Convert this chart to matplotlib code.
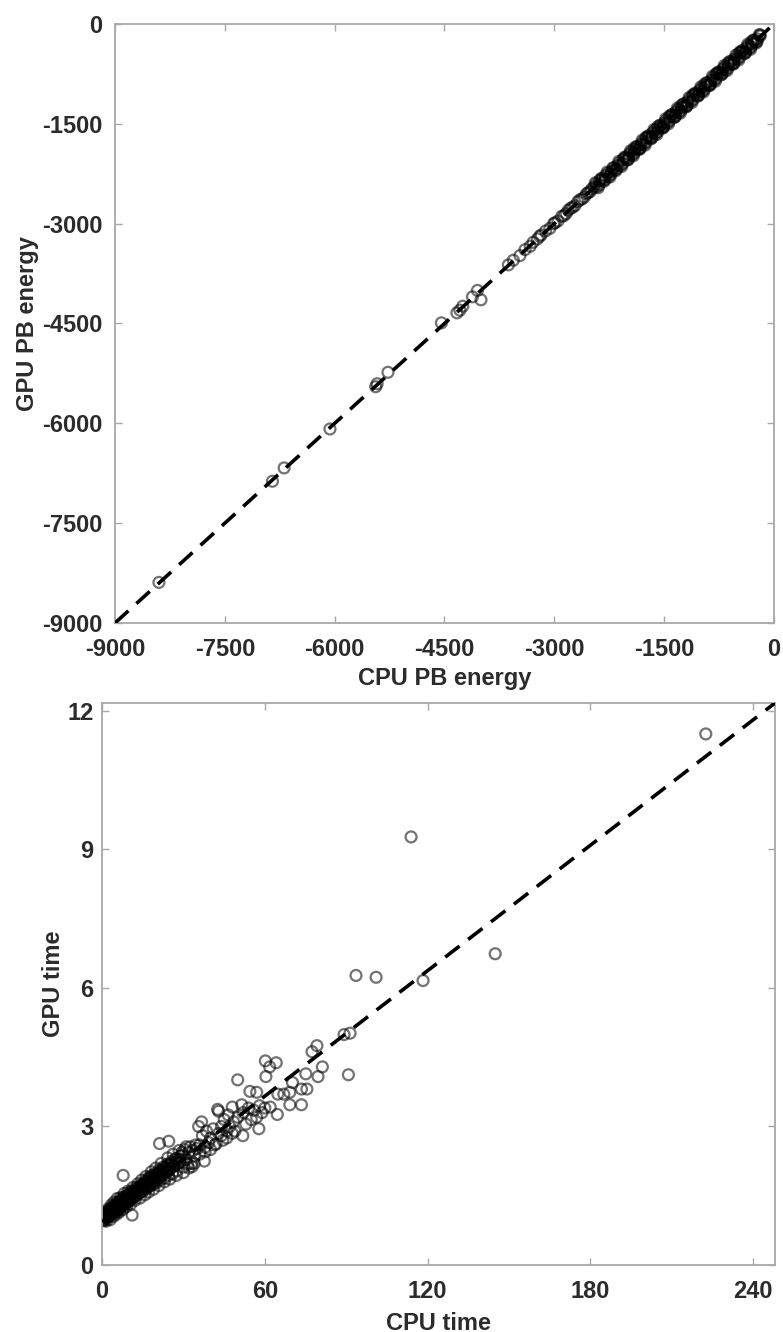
import numpy as np
import matplotlib
matplotlib.use("Agg")
import matplotlib.pyplot as plt

# ---- top panel: PB energy, CPU vs GPU ----
cpu_pb = [-8400, -6850, -6690, -6064, -5440, -5420, -5272, -4542, -4330, -4290,
          -4250, -4118, -4050, -4002, -3627, -3560, -3470, -3400, -3330, -3290,
          -3230, -3120, -3060, -3010, -2950, -2900, -2840, -2780, -2720, -2680,
          -2620, -2560, -2510,
          -3200, -3180, -2990, -2870, -2810, -2750, -2650, -2590, -2540, -2490,
          -2460, -2420, -2380, -2340, -2300, -2260, -2220, -2180, -2140, -2100,
          -2060, -2020, -1980, -1940, -1900, -1860, -1820, -1780, -1740, -1700,
          -1660, -1620, -1580, -1540, -1500, -1460, -1420, -1380, -1340, -1300,
          -1260, -1220, -1180, -1140, -1100, -1060, -1020, -980, -940, -900,
          -860, -820, -780, -740, -700, -660, -620, -580, -540, -500,
          -460, -420, -380, -340, -300, -260, -227, -190,
          -1990, -1910, -1830, -1750, -1670, -1590, -1510, -1430, -1350, -1270,
          -1190, -1110, -1030, -950, -870, -790, -710, -630, -550, -470,
          -390, -310]
gpu_pb = [-8390, -6870, -6670, -6085, -5450, -5405, -5233, -4490, -4340, -4300,
          -4240, -4099, -4003, -4144, -3619, -3550, -3480, -3390, -3340, -3280,
          -3230, -3110, -3070, -3000, -2960, -2890, -2850, -2770, -2730, -2670,
          -2630, -2550, -2520,
          -3190, -3170, -2985, -2880, -2800, -2755, -2640, -2600, -2535, -2480,
          -2450, -2445, -2350, -2345, -2280, -2290, -2215, -2195, -2130, -2125,
          -2030, -2025, -1960, -1970, -1895, -1875, -1810, -1805, -1710, -1705,
          -1640, -1650, -1575, -1555, -1490, -1485, -1390, -1385, -1320, -1330,
          -1255, -1235, -1170, -1165, -1070, -1065, -1000, -1010, -935, -915,
          -850, -845, -750, -745, -680, -690, -615, -595, -530, -525,
          -430, -425, -360, -370, -295, -275, -224, -180,
          -2035, -1865, -1875, -1705, -1715, -1545, -1555, -1385, -1395, -1225,
          -1235, -1065, -1075, -905, -915, -745, -755, -585, -595, -425,
          -435, -265]
# densely packed structures between -2500 and 0
cpu_pb_dense = [-2440, -2400, -2360, -2320, -2280, -2240, -2200, -2160, -2120, -2080,
                -2040, -2000, -1960, -1920, -1880, -1840, -1800, -1760, -1720, -1680,
                -1640, -1600, -1560, -1520, -1480, -1440, -1400, -1360, -1320, -1280,
                -1240, -1200, -1160, -1120, -1080, -1040, -1000, -960, -920, -880,
                -840, -800, -760, -720, -680, -640, -600, -560, -520, -480,
                -440, -400, -360, -320, -280, -240, -200,
                -2430, -2390, -2350, -2310, -2270, -2230, -2190, -2150, -2110, -2070,
                -2030, -1990, -1950, -1910, -1870, -1830, -1790, -1750, -1710, -1670,
                -1630, -1590, -1550, -1510, -1470, -1430, -1390, -1350, -1310, -1270,
                -1230, -1190, -1150, -1110, -1070, -1030, -990, -950, -910, -870,
                -830, -790, -750, -710, -670, -630, -590, -550, -510, -470,
                -430, -390, -350, -310, -270, -230, -190]
gpu_pb_dense = [-2385, -2460, -2320, -2365, -2225, -2300, -2160, -2205, -2065, -2140,
                -2000, -2045, -1905, -1980, -1840, -1885, -1745, -1820, -1680, -1725,
                -1585, -1660, -1520, -1565, -1425, -1500, -1360, -1405, -1265, -1340,
                -1200, -1245, -1105, -1180, -1040, -1085, -945, -1020, -880, -925,
                -785, -860, -720, -765, -625, -700, -560, -605, -465, -540,
                -400, -445, -305, -380, -240, -285, -160,
                -2405, -2420, -2325, -2340, -2245, -2260, -2165, -2180, -2085, -2100,
                -2005, -2020, -1925, -1940, -1845, -1860, -1765, -1780, -1685, -1700,
                -1605, -1620, -1525, -1540, -1445, -1460, -1365, -1380, -1285, -1300,
                -1205, -1220, -1125, -1140, -1045, -1060, -965, -980, -885, -900,
                -805, -820, -725, -740, -645, -660, -565, -580, -485, -500,
                -405, -420, -325, -340, -245, -260, -165]
pb_ticks = [-9000, -7500, -6000, -4500, -3000, -1500, 0]

# ---- bottom panel: run time, CPU vs GPU ----
cpu_time = [0.5, 0.8, 1.0, 1.2, 1.5, 1.8, 2.0, 2.2, 2.5, 2.8, 3.0, 3.2, 3.5, 3.8,
            4.0, 4.3, 4.6, 5.0, 5.2, 5.5, 5.8, 6.0, 6.3, 6.6, 7.0, 7.2, 7.5, 7.8,
            8.0, 8.4, 8.8, 9.0, 9.3, 9.7, 10.0, 10.4, 10.8, 11.0, 11.5, 12.0,
            12.3, 12.7, 13.0, 13.5, 14.0, 14.3, 14.8, 15.0, 15.5, 16.0, 16.4,
            16.8, 17.0, 17.5, 18.0, 18.4, 18.8, 19.0, 19.5, 20.0, 20.5, 21.0,
            21.5, 22.0, 22.5, 23.0, 23.5, 24.0, 24.5, 25.0, 25.5, 26.0, 26.5,
            27.0, 27.5, 28.0, 29.0, 30.0, 31.0, 32.0, 33.0, 34.0, 35.0,
            1.4, 2.6, 3.6, 4.8, 6.2, 7.4, 8.6, 9.8, 11.2, 12.6, 13.8, 15.2, 16.6,
            17.8, 19.2, 20.8, 22.2, 23.8, 25.2, 26.8, 28.5, 29.5, 30.5, 31.5,
            32.5, 33.5, 34.5,
            1.0, 1.6, 2.4, 3.0, 3.4, 4.2, 4.4, 5.4, 5.6, 6.4, 6.8, 7.6, 8.2,
            9.0, 9.6, 10.6, 11.4, 12.2, 13.2, 14.0, 14.6, 15.8, 16.2, 17.2,
            18.2, 19.0, 19.8, 21.0, 21.8, 23.0, 24.2, 25.0, 26.2, 27.4, 28.4,
            30.0, 31.0, 32.0, 34.0, 36.0, 38.0, 40.0, 42.0, 44.0, 46.0, 48.0,
            36.0, 37.0, 38.0, 38.5, 40.0, 41.0, 41.5, 43.0, 44.0, 44.5, 45.0,
            46.0, 46.5, 47.0, 48.5, 49.0, 50.0, 52.0, 53.0, 54.0, 55.0, 56.0,
            57.0, 58.0, 59.0, 60.0,
            7.8, 11.1, 21.2, 24.6, 33.2, 37.7, 39.3, 35.6, 36.7, 42.6, 43.0,
            48.0, 51.5, 51.9, 57.8, 50.0, 54.5, 57.0, 60.2, 64.2, 61.8, 60.4,
            62.0, 64.6, 64.8, 67.0, 69.2, 70.2, 69.2, 73.5, 73.5, 75.5, 75.1,
            77.4, 79.2, 81.2, 79.6, 89.2, 91.4, 90.8, 93.6, 101.0, 113.9, 118.3,
            144.9, 222.5]
gpu_time = [1.00, 0.96, 1.06, 1.02, 1.10, 1.04, 1.14, 1.08, 1.18, 1.06, 1.12,
            1.22, 1.15, 1.10, 1.26, 1.18, 1.30, 1.14, 1.24, 1.34, 1.20, 1.28,
            1.38, 1.24, 1.32, 1.42, 1.28, 1.36, 1.46, 1.30, 1.40, 1.50, 1.36,
            1.44, 1.56, 1.40, 1.50, 1.60, 1.46, 1.56, 1.66, 1.50, 1.60, 1.70,
            1.56, 1.66, 1.76, 1.60, 1.70, 1.82, 1.64, 1.76, 1.88, 1.70, 1.82,
            1.94, 1.74, 1.86, 1.98, 1.78, 1.92, 2.06, 1.84, 1.96, 2.12, 1.88,
            2.02, 2.18, 1.94, 2.08, 2.24, 1.98, 2.14, 2.30, 2.04, 2.20, 2.36,
            2.12, 2.28, 2.44, 2.20, 2.36, 2.52,
            1.00, 1.05, 1.20, 1.22, 1.20, 1.36, 1.48, 1.38, 1.52, 1.60, 1.64,
            1.74, 1.70, 1.90, 1.80, 1.98, 2.04, 2.10, 2.16, 2.22, 2.28, 2.44,
            2.50, 2.18, 2.56, 2.48, 2.60,
            1.15, 0.95, 1.22, 0.98, 1.30, 1.05, 1.36, 1.10, 1.44, 1.15, 1.46,
            1.20, 1.55, 1.26, 1.60, 1.32, 1.68, 1.40, 1.76, 1.45, 1.84, 1.52,
            1.92, 1.58, 2.02, 1.64, 2.10, 1.72, 2.20, 1.80, 2.32, 1.86, 2.40,
            1.94, 2.48, 2.00, 2.56, 2.10, 2.20, 2.40, 2.45, 2.50, 2.62, 2.80,
            2.75, 2.85,
            2.60, 2.80, 2.55, 2.90, 2.75, 2.95, 2.60, 2.85, 3.00, 2.70, 3.15,
            2.90, 3.25, 3.00, 3.10, 2.90, 3.20, 3.30, 3.05, 3.40, 3.15, 3.35,
            3.20, 3.45, 3.30, 3.40,
            1.94, 1.08, 2.63, 2.68, 2.13, 2.25, 2.65, 3.00, 3.10, 3.37, 3.33,
            3.42, 3.47, 2.80, 2.95, 4.01, 3.76, 3.74, 4.42, 4.38, 4.29, 4.08,
            3.42, 3.26, 3.70, 3.70, 3.74, 3.95, 3.47, 3.47, 3.81, 3.81, 4.14,
            4.62, 4.75, 4.29, 4.08, 4.99, 5.02, 4.12, 6.27, 6.23, 9.27, 6.16,
            6.74, 11.50]
# the crowded cloud of short runs near the origin
cpu_time_core = [0.3, 0.7, 1.3, 1.7, 2.3, 2.7, 3.3, 3.7, 4.3, 4.7, 5.3, 5.7,
                 6.3, 6.7, 7.3, 7.7, 8.3, 8.7, 9.3, 9.7, 10.3, 10.7, 11.3, 11.7,
                 12.3, 12.7, 13.3, 13.7, 14.3, 14.7, 15.3, 15.7, 16.3, 16.7,
                 17.3, 17.7, 18.3, 18.7, 19.3, 19.7, 20.3, 20.7, 21.3, 21.7,
                 22.3, 22.7, 23.3, 23.7, 24.3, 24.7, 25.5, 26.5, 27.5, 28.5, 29.5]
gpu_time_core = [1.07, 0.97, 1.12, 1.02, 1.16, 1.06, 1.21, 1.11, 1.25, 1.15,
                 1.30, 1.20, 1.34, 1.24, 1.39, 1.29, 1.43, 1.33, 1.48, 1.38,
                 1.52, 1.42, 1.57, 1.47, 1.61, 1.51, 1.66, 1.56, 1.70, 1.60,
                 1.75, 1.65, 1.79, 1.69, 1.84, 1.74, 1.88, 1.78, 1.93, 1.83,
                 1.97, 1.87, 2.02, 1.92, 2.06, 1.96, 2.11, 2.01, 2.15, 2.05,
                 2.20, 2.14, 2.30, 2.22, 2.38]
time_xticks = [0, 60, 120, 180, 240]
time_yticks = [0, 3, 6, 9, 12]
time_xlim = (0, 248)
time_ylim = (0, 12.17)
time_line_start = 0.94   # GPU time where the dashed guide starts

TEXT_COLOR = "#2b2b2b"
AXIS_COLOR = "#a8a8a8"


def style_axes(ax):
    """MATLAB-like box axes: grey frame, inward ticks on all sides."""
    for sp in ax.spines.values():
        sp.set_color(AXIS_COLOR)
        sp.set_linewidth(1.3)
    ax.tick_params(direction="in", length=5, width=1.0, color=AXIS_COLOR,
                   top=True, right=True, labelcolor=TEXT_COLOR, labelsize=17)
    for lab in ax.get_xticklabels() + ax.get_yticklabels():
        lab.set_fontweight("bold")


def draw_scatter(ax, x, y):
    ax.scatter(x, y, s=62, facecolors="none", edgecolors="black",
               linewidths=1.6, alpha=0.55, zorder=2)


if __name__ == "__main__":
    plt.rcParams["font.family"] = ["Liberation Sans", "DejaVu Sans"]
    plt.rcParams["axes.unicode_minus"] = False

    fig = plt.figure(figsize=(7.83, 13.32), dpi=100)

    # top panel
    ax1 = fig.add_axes([115 / 783, 1 - 623 / 1332, 659 / 783, 599 / 1332])
    draw_scatter(ax1, cpu_pb + cpu_pb_dense, gpu_pb + gpu_pb_dense)
    ax1.plot([pb_ticks[0], pb_ticks[-1]], [pb_ticks[0], pb_ticks[-1]],
             color="black", lw=2.6, dashes=(5, 3), zorder=3)
    ax1.set_xlim(pb_ticks[0], pb_ticks[-1])
    ax1.set_ylim(pb_ticks[0], pb_ticks[-1])
    ax1.set_xticks(pb_ticks)
    ax1.set_yticks(pb_ticks)
    style_axes(ax1)
    ax1.tick_params(axis="x", pad=11)
    ax1.tick_params(axis="y", pad=9)
    ax1.set_xlabel("CPU PB energy", fontsize=17, fontweight="bold",
                   color=TEXT_COLOR, labelpad=4)
    ax1.set_ylabel("GPU PB energy", fontsize=17, fontweight="bold",
                   color=TEXT_COLOR, labelpad=2)

    # bottom panel
    ax2 = fig.add_axes([102 / 783, 1 - 1265 / 1332, 673 / 783, 562 / 1332])
    draw_scatter(ax2, cpu_time + cpu_time_core, gpu_time + gpu_time_core)
    ax2.plot([time_xlim[0], time_xlim[1]], [time_line_start, time_ylim[1]],
             color="black", lw=2.6, dashes=(5, 3), zorder=3)
    ax2.set_xlim(*time_xlim)
    ax2.set_ylim(*time_ylim)
    ax2.set_xticks(time_xticks)
    ax2.set_yticks(time_yticks)
    style_axes(ax2)
    ax2.tick_params(axis="x", pad=11)
    ax2.tick_params(axis="y", pad=6)
    ax2.set_xlabel("CPU time", fontsize=17, fontweight="bold",
                   color=TEXT_COLOR, labelpad=6)
    ax2.set_ylabel("GPU time", fontsize=17, fontweight="bold",
                   color=TEXT_COLOR, labelpad=2)

    fig.savefig("out.png", dpi=100)
